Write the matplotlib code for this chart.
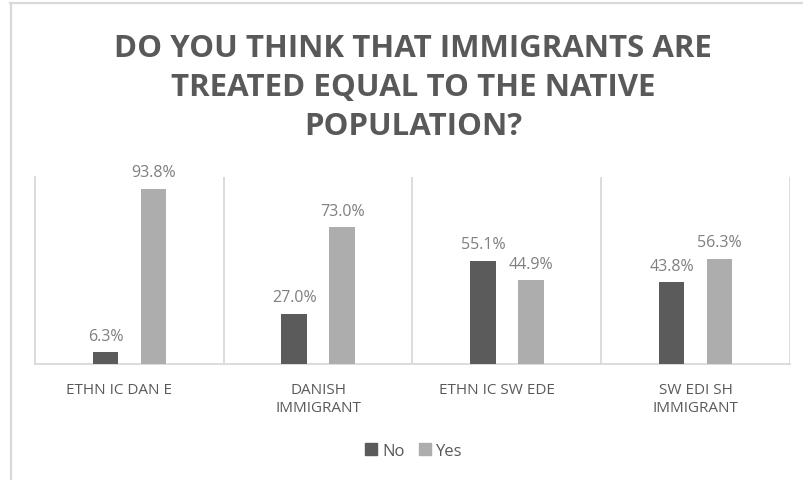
import matplotlib
matplotlib.use("Agg")
import matplotlib.pyplot as plt
import matplotlib.transforms as mtransforms
from matplotlib.lines import Line2D
from matplotlib.patches import Patch
import numpy as np

categories = ["ETHN IC DAN E", "DANISH\nIMMIGRANT", "ETHN IC SW EDE", "SW EDI SH\nIMMIGRANT"]
no_vals = [6.3, 27.0, 55.1, 43.8]
yes_vals = [93.8, 73.0, 44.9, 56.3]
title = "DO YOU THINK THAT IMMIGRANTS ARE\nTREATED EQUAL TO THE NATIVE\nPOPULATION?"

dark = "#5b5b5b"
light = "#adadad"
grid = "#d9d9d9"
txt = "#595959"

plt.rcParams['font.family'] = ['Open Sans', 'DejaVu Sans']

fig = plt.figure(figsize=(8.04, 4.81), dpi=100)
ax = fig.add_axes([35 / 804, 1 - 365 / 481, 755 / 804, 187 / 481])

x = np.arange(len(categories))
w = 0.135
off = 0.127
b1 = ax.bar(x - off, no_vals, w, color=dark, label="No", zorder=3)
b2 = ax.bar(x + off, yes_vals, w, color=light, label="Yes", zorder=3)

for bars, vals in ((b1, no_vals), (b2, yes_vals)):
    for r, v in zip(bars, vals):
        ax.annotate(f"{v:.1f}%", (r.get_x() + r.get_width() / 2, v),
                    xytext=(0, 9), textcoords="offset points",
                    ha="center", va="baseline", fontsize=11.5, color="#7f7f7f")

ax.set_xlim(-0.5, 3.5)
ax.set_ylim(0, 100)
ax.set_yticks([])
ax.set_xticks(x)
ax.set_xticklabels(categories, fontsize=11, color=txt, linespacing=1.3)
ax.tick_params(axis="x", length=0, pad=13)
# the one-line labels sit a little left of centre in the original
shift = mtransforms.ScaledTranslation(-0.10, 0, fig.dpi_scale_trans)
for i in (0, 2):
    lab = ax.get_xticklabels()[i]
    lab.set_transform(lab.get_transform() + shift)

for s in ["top", "right"]:
    ax.spines[s].set_visible(False)
ax.spines["left"].set_color(grid)
ax.spines["bottom"].set_color(grid)
ax.spines["left"].set_linewidth(1.3)
ax.spines["bottom"].set_linewidth(1.3)
for sep in [0.5, 1.5, 2.5, 3.5]:
    ax.axvline(sep, color=grid, lw=1.3, zorder=1)

fig.text(0.514, 1 - 88 / 481, title, ha="center", va="center", fontsize=22.5,
         fontweight="bold", color=txt, linespacing=1.38)

handles = [Patch(color=dark, label="No"), Patch(color=light, label="Yes")]
fig.legend(handles=handles, loc="center", bbox_to_anchor=(414 / 804, 1 - 452 / 481),
           ncol=2, frameon=False, fontsize=12, handlelength=0.7, handleheight=0.7,
           handletextpad=0.3, columnspacing=0.9, labelcolor=txt)

# outer chart border (top and left edges)
fig.add_artist(Line2D([10 / 804, 1], [1 - 3.5 / 481] * 2, color=grid, lw=1.6))
fig.add_artist(Line2D([11 / 804] * 2, [0, 1 - 3.5 / 481], color=grid, lw=1.6))

fig.savefig("out.png", dpi=100)
